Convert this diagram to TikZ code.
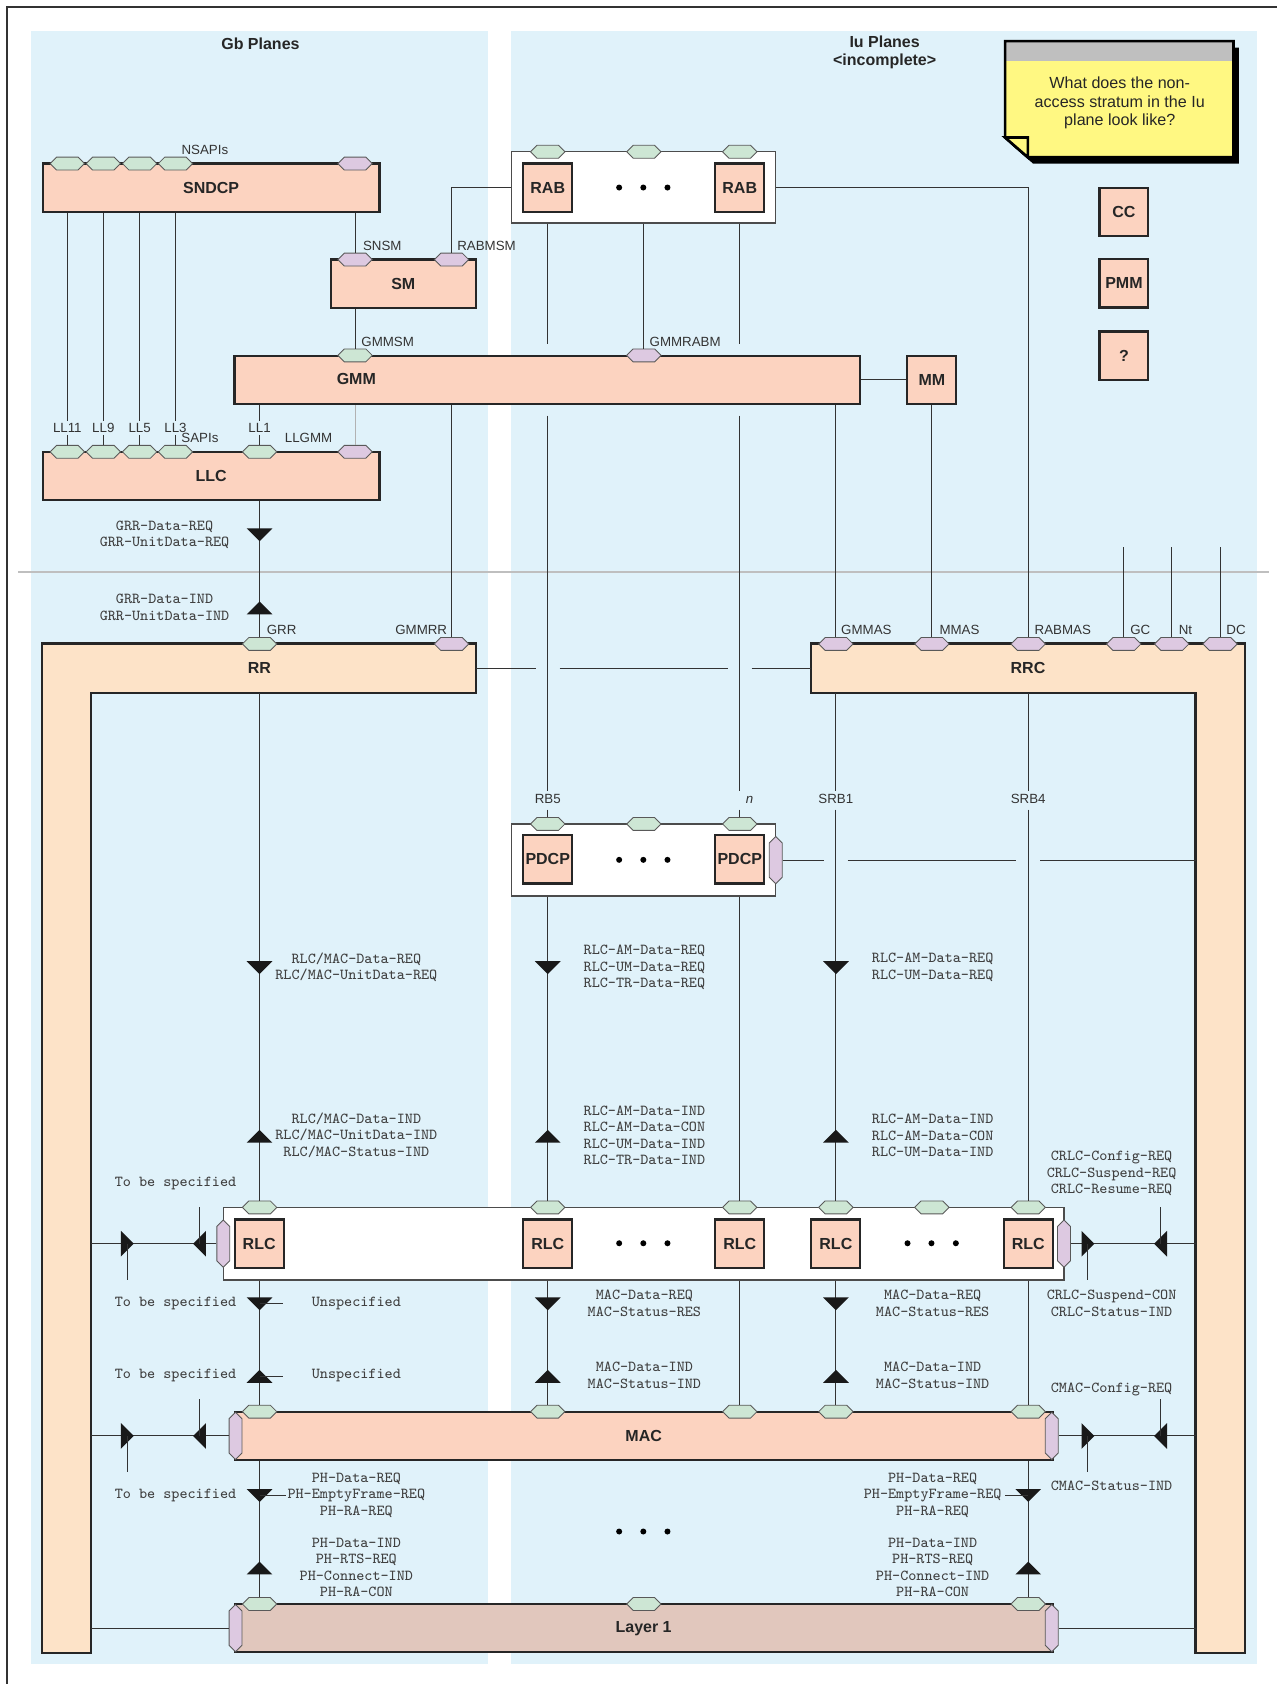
\documentclass[tikz,border=0pt]{standalone}
\usepackage{fontspec}
\setsansfont{Liberation Sans}
\usetikzlibrary{shapes.symbols, calc}

\definecolor{paneblue}{RGB}{224,242,250}
\definecolor{entityfill}{RGB}{252,211,192}
\definecolor{rrfill}{RGB}{253,227,200}
\definecolor{physfill}{RGB}{225,199,189}
\definecolor{sapgreen}{RGB}{205,230,212}
\definecolor{sappurple}{RGB}{221,201,225}
\definecolor{noteyellow}{RGB}{255,248,130}
\definecolor{linegray}{RGB}{51,51,51}

% filled primitive triangles
\newcommand{\trdown}[1]{\fill[black!90] (#1) ++(-12,-6) -- ++(24,0) -- ++(-12,12) -- cycle;}
\newcommand{\trup}[1]{\fill[black!90] (#1) ++(-12,6) -- ++(24,0) -- ++(-12,-12) -- cycle;}
\newcommand{\trright}[1]{\fill[black!90] (#1) ++(-6,-12) -- ++(0,24) -- ++(12,-12) -- cycle;}
\newcommand{\trleft}[1]{\fill[black!90] (#1) ++(6,-12) -- ++(0,24) -- ++(-12,-12) -- cycle;}

\begin{document}
\begin{tikzpicture}[
    x=0.5pt, y=-0.5pt,
    every node/.style={inner sep=0pt},
    entity/.style={
        rectangle,
        draw=black!85,
        line width=1pt,
        fill=entityfill,
        minimum width=22.8pt,
        minimum height=22.5pt,
        text=black!85,
        font=\sffamily\bfseries\fontsize{7.45}{9}\selectfont
    },
    boxlabel/.style={
        text=black!85,
        font=\sffamily\bfseries\fontsize{7.45}{9}\selectfont
    },
    sapgroup/.style={
        rectangle,
        draw=black!70,
        line width=0.6pt,
        fill=white
    },
    rrpart/.style={
        rectangle,
        draw=none
    },
    lshape/.style={
        draw=black!85,
        line width=1pt,
        fill=rrfill
    },
    gsap/.style={
        signal,
        signal to=east and west,
        signal pointer angle=90,
        draw=black!65,
        line width=0.4pt,
        minimum width=16pt,
        minimum height=6pt,
        fill=sapgreen
    },
    psap/.style={gsap, fill=sappurple},
    vsap/.style={
        signal,
        signal to=north and south,
        signal pointer angle=90,
        draw=black!65,
        line width=0.4pt,
        minimum width=6pt,
        minimum height=16pt,
        fill=sappurple
    },
    saplabel/.style={
        inner sep=0.8pt,
        text height=4.5pt,
        text depth=0pt,
        text=black!80,
        font=\sffamily\fontsize{6.2}{7}\selectfont
    },
    prim/.style={
        align=center,
        text=black!75,
        font=\ttfamily\fontsize{7.1}{7.5}\selectfont
    },
    planetitle/.style={
        align=center,
        text=black!85,
        font=\sffamily\bfseries\fontsize{7.45}{8.6}\selectfont
    },
    notetext/.style={
        align=center,
        text=black!85,
        font=\sffamily\fontsize{7.5}{8.55}\selectfont
    },
    link/.style={draw=linegray, line width=0.5pt},
    sidetick/.style={draw=linegray, line width=0.5pt}
]
\useasboundingbox (0,0) rectangle (1189,1568);

% ============================================
% Planes, frame and divider
% ============================================
\fill[paneblue] (28.5,28.9) rectangle (454,1549.6);
\fill[paneblue] (476,28.9) rectangle (1170,1549.6);
\draw[linegray, line width=1pt] (1189,6.7) -- (6.8,6.7) -- (6.8,1568);
\draw[black!25, line width=1pt] (17,532.3) -- (1181.5,532.3);

\node[planetitle] (gbtitle) at (242.5,40.6) {Gb Planes};
\node[planetitle] (iutitle) at (823.7,48.6) {Iu Planes\\<incomplete>};

% sticky note
\fill[black] (940.8,44.3) -- (1153.5,44.3) -- (1153.5,152.4) -- (962,152.4) -- (940.8,134) -- cycle;
\fill[noteyellow] (935.8,38.3) -- (1148.5,38.3) -- (1148.5,146.4) -- (957,146.4) -- (935.8,128) -- cycle;
\fill[black!25] (935.8,38.3) rectangle (1148.5,56.5);
\draw[black, line width=1.2pt] (935.8,38.3) -- (1148.5,38.3) -- (1148.5,146.4) -- (957,146.4) -- (935.8,128) -- cycle;
\filldraw[fill=noteyellow, draw=black, line width=1.2pt] (935.8,128) -- (957,128) -- (957,146.4) -- cycle;
\node[notetext] (note) at (1042.6,95.8) {What does the non-\\access stratum in the Iu\\plane look like?};

% ============================================
% Upper layers
% ============================================
\node[entity, minimum width=156.7pt] (sndcp) at (196.6,174.7) {SNDCP};
\node[entity, minimum width=67.7pt] (sm) at (375.5,264.1) {SM};
\node[entity, minimum width=291.3pt] (gmm) at (509.7,353.6) {};
\node[boxlabel] (gmmtext) at (331.8,353.2) {GMM};
\node[entity] (mm) at (867.7,353.6) {MM};
\node[entity, minimum width=156.7pt] (llc) at (196.6,443.1) {LLC};

\node[entity] (cc) at (1046.5,197.3) {CC};
\node[entity] (pmm) at (1046.5,263.8) {PMM};
\node[entity] (unknown) at (1046.5,331.2) {?};

\node[sapgroup, minimum width=123pt, minimum height=33.2pt] (rabgrp) at (599.2,174.5) {};
\node[entity] (rab1) at (510,174.7) {RAB};
\node[entity] (rab2) at (688.8,174.7) {RAB};
\fill (576.5,174.6) circle (1.4pt) (599,174.6) circle (1.4pt) (621.5,174.6) circle (1.4pt);

% ============================================
% RR and RRC
% ============================================
\node[rrpart, minimum width=201.6pt, minimum height=22.5pt] (rr) at (241.5,622.1) {};
\node[rrpart, minimum width=22.25pt, minimum height=469.45pt] (rrleg) at (62.15,1069.05) {};
\draw[lshape] (rr.north west) -- (rr.north east) -- (rr.south east) -- (rrleg.east |- rr.south)
    -- (rrleg.south east) -- (rrleg.south west) -- cycle;
\node[boxlabel] (rrtext) at (rr) {RR};

\node[rrpart, minimum width=201.6pt, minimum height=22.5pt] (rrc) at (957.2,622.1) {};
\node[rrpart, minimum width=22.6pt, minimum height=469.45pt] (rrcleg) at (1136.2,1069.05) {};
\draw[lshape] (rrc.north west) -- (rrcleg.north east) -- (rrcleg.south east) -- (rrcleg.south west)
    -- (rrcleg.west |- rrc.south) -- (rrc.south west) -- cycle;
\node[boxlabel] (rrctext) at (rrc) {RRC};

% ============================================
% PDCP, RLC, MAC, Layer 1
% ============================================
\node[sapgroup, minimum width=123pt, minimum height=33.5pt] (pdcpgrp) at (599.2,800.8) {};
\node[entity] (pdcp1) at (510,800.2) {PDCP};
\node[entity] (pdcp2) at (688.8,800.2) {PDCP};
\fill (576.5,800.6) circle (1.4pt) (599,800.6) circle (1.4pt) (621.5,800.6) circle (1.4pt);

\node[sapgroup, minimum width=391.4pt, minimum height=33.8pt] (rlcgrp) at (599.3,1158) {};
\foreach \x/\k in {241.3/1, 510/2, 688.8/3, 778.3/4, 957.4/5}
    \node[entity] (rlc\k) at (\x,1158) {RLC};
\foreach \x in {576.5, 599, 621.5, 845, 867.3, 890}
    \fill (\x,1157.6) circle (1.4pt);

\node[entity, minimum width=380.75pt] (mac) at (599.3,1336.9) {MAC};
\node[entity, minimum width=380.75pt, fill=physfill] (layer1) at (599.3,1516) {Layer 1};
\fill (576.5,1426) circle (1.4pt) (599,1426) circle (1.4pt) (621.5,1426) circle (1.4pt);

% ============================================
% Service access points
% ============================================
\foreach \x/\k in {62.7/1, 96.2/2, 130/3, 163.4/4}{
    \node[gsap] (nsapi\k) at (\x,152.3) {};
    \node[gsap] (sapi\k) at (\x,420.7) {};
}
\node[psap] (sndcpsm) at (330.6,152.3) {};
\node[psap] (smsn) at (330.6,241.7) {};
\node[psap] (smrab) at (420.4,241.7) {};
\node[gsap] (gmmsm) at (330.6,330.9) {};
\node[psap] (gmmrabm) at (599.5,330.9) {};
\node[gsap] (sapi5) at (241.7,420.7) {};
\node[psap] (llgmm) at (330.6,420.7) {};
\foreach \x/\k in {510/1, 599.5/2, 688.8/3}{
    \node[gsap] (rabsap\k) at (\x,141.3) {};
    \node[gsap] (pdsap\k) at (\x,767.2) {};
}
\node[vsap] (pdside) at (722.3,800.8) {};

\node[gsap] (grr) at (241.7,599.6) {};
\node[psap] (gmmrr) at (420.4,599.6) {};
\foreach \x/\n in {778.3/gmmas, 867.7/mmas, 957.4/rabmas, 1046.3/gc, 1091/nt, 1136/dc}
    \node[psap] (\n) at (\x,599.6) {};

\foreach \x/\k in {241.7/1, 510/2, 688.8/3, 778.3/4, 867.7/5, 957.4/6}
    \node[gsap] (rlcsap\k) at (\x,1124.2) {};
\node[vsap] (rlcwest) at (207.9,1158) {};
\node[vsap] (rlceast) at (990.7,1158) {};

\foreach \x/\k in {241.7/1, 510/2, 688.8/3, 778.3/4, 957.4/5}
    \node[gsap] (macsap\k) at (\x,1314.4) {};
\node[vsap] (macwest) at (219.3,1337) {};
\node[vsap] (maceast) at (979.3,1337) {};

\foreach \x/\k in {241.7/1, 599.5/2, 957.4/3}
    \node[gsap] (physap\k) at (\x,1493.5) {};
\node[vsap] (phywest) at (219.3,1516) {};
\node[vsap] (phyeast) at (979.3,1516) {};

% SAP labels
\node[saplabel] (nsapis) at (190.8,139) {NSAPIs};
\node[saplabel] (snsm) at (356,228.5) {SNSM};
\node[saplabel] (rabmsm) at (453,228.5) {RABMSM};
\node[saplabel] (gmmsmtext) at (361,318.5) {GMMSM};
\node[saplabel] (gmmrabmtext) at (638,318.5) {GMMRABM};
\node[saplabel] (ll1) at (62.7,398.4) {LL11};
\node[saplabel] (ll2) at (96.2,398.4) {LL9};
\node[saplabel] (ll3) at (130,398.4) {LL5};
\node[saplabel] (ll4) at (163.4,398.4) {LL3};
\node[saplabel] (ll5) at (241.7,398.4) {LL1};
\node[saplabel] (sapis) at (186.2,407.7) {SAPIs};
\node[saplabel] (llgmmtext) at (287.3,407.7) {LLGMM};
\node[saplabel] (grrtext) at (262.2,586.6) {GRR};
\node[saplabel] (gmmrrtext) at (392.2,586.6) {GMMRR};
\node[saplabel] (gmmastext) at (806.7,586.6) {GMMAS};
\node[saplabel] (mmastext) at (893.4,586.6) {MMAS};
\node[saplabel] (rabmastext) at (989.6,586.6) {RABMAS};
\node[saplabel] (gctext) at (1061.8,586.6) {GC};
\node[saplabel] (nttext) at (1103.8,586.6) {Nt};
\node[saplabel] (dctext) at (1150.9,586.6) {DC};
\node[saplabel] (rb5) at (510,743.3) {RB5};
\node[saplabel] (nlabel) at (698,743.3) {\itshape n};
\node[saplabel] (srb1) at (778.3,743.3) {SRB1};
\node[saplabel] (srb4) at (957.4,743.3) {SRB4};

% ============================================
% Connectors
% ============================================
\foreach \k in {1,...,4}{
    \draw[link] (sndcp.south -| sapi\k) -- (sapi\k |- ll\k.north);
    \draw[link] (sapi\k |- ll\k.south) -- (sapi\k.north);
}
\draw[link] (sndcp.south -| smsn) -- (smsn.north);
\draw[link] (rabgrp.west) -| (smrab.north);
\draw[link] (sm.south -| gmmsm) -- (gmmsm.north);
\draw[link] (rabgrp.south -| gmmrabm) -- (gmmrabm.north);
\draw[link] (gmm.east) -- (mm.west);
\draw[link] (gmm.south -| sapi5) -- (sapi5 |- ll5.north);
\draw[link] (sapi5 |- ll5.south) -- (sapi5.north);
\draw[black!30, line width=0.5pt] (gmm.south -| llgmm) -- (llgmm.north);
\draw[link] (gmm.south -| gmmrr) -- (gmmrr.north);
\draw[link] (gmm.south -| gmmas) -- (gmmas.north);
\draw[link] (mm.south) -- (mmas.north);
\draw[link] (rabgrp.east) -| (rabmas.north);
\foreach \n in {gc, nt, dc}
    \draw[link] (\n |- 0,509.4) -- (\n.north);

% radio bearers through GMM and RR/RRC
\foreach \k/\lbl in {1/rb5, 3/nlabel}{
    \draw[link] (rabgrp.south -| rabsap\k) -- ($(gmm.north -| rabsap\k)+(0,-10)$);
    \draw[link] ($(gmm.south -| rabsap\k)+(0,10)$) -- (rabsap\k |- \lbl.north);
    \draw[link] ($(rabsap\k |- \lbl.south)+(0,4)$) -- (pdsap\k.north);
}
\draw[link] (rr.east) -- ($(rr.east -| rabsap1)+(-11,0)$);
\draw[link] ($(rr.east -| rabsap1)+(11,0)$) -- ($(rr.east -| rabsap3)+(-11,0)$);
\draw[link] ($(rr.east -| rabsap3)+(11,0)$) -- (rrc.west);

% LLC - RR
\draw[link] (llc.south -| grr) -- (grr.north);
\trdown{241.7,498}
\trup{241.7,566}

% RR / PDCP / RRC - RLC
\draw[link] (rr.south -| rlcsap1) -- (rlcsap1.north);
\draw[link] (pdcpgrp.south -| rlcsap2) -- (rlcsap2.north);
\draw[link] (pdcpgrp.south -| rlcsap3) -- (rlcsap3.north);
\draw[link] (rrc.south -| rlcsap4) -- (rlcsap4 |- srb1.north);
\draw[link] ($(rlcsap4 |- srb1.south)+(0,4)$) -- (rlcsap4.north);
\draw[link] (rrc.south -| rlcsap6) -- (rlcsap6 |- srb4.north);
\draw[link] ($(rlcsap6 |- srb4.south)+(0,4)$) -- (rlcsap6.north);
\foreach \x in {241.7, 510, 778.3}{
    \trdown{\x,901}
    \trup{\x,1058}
}

% PDCP control
\draw[link] (pdside.east) -- ($(pdside.east -| rlcsap4)+(-11,0)$);
\draw[link] ($(pdside.east -| rlcsap4)+(11,0)$) -- ($(pdside.east -| rlcsap6)+(-11,0)$);
\draw[link] ($(pdside.east -| rlcsap6)+(11,0)$) -- (rrcleg.west |- pdside.east);

% RLC control
\draw[link] (rlcwest.west) -- (rrleg.east |- rlcwest.west);
\draw[link] (rlceast.east) -- (rrcleg.west |- rlceast.east);
% MAC control
\draw[link] (macwest.west) -- (rrleg.east |- macwest.west);
\draw[link] (maceast.east) -- (rrcleg.west |- maceast.east);
\foreach \y in {1158, 1337}{
    \trright{118.5,\y}
    \trleft{185.8,\y}
    \trright{1013,\y}
    \trleft{1080.6,\y}
    \draw[sidetick] (118.5,\y) -- ++(0,34);
    \draw[sidetick] (185.8,\y) -- ++(0,-34);
    \draw[sidetick] (1013,\y) -- ++(0,34);
    \draw[sidetick] (1080.6,\y) -- ++(0,-34);
}

% RLC - MAC
\foreach \k in {1,...,5}
    \draw[link] (rlcgrp.south -| macsap\k) -- (macsap\k.north);
\foreach \x in {241.7, 510, 778.3}{
    \trdown{\x,1214}
    \trup{\x,1281.5}
}
\draw[sidetick] (241.7,1214) -- ++(22,0);
\draw[sidetick] (241.7,1281.5) -- ++(22,0);

% MAC - Layer 1
\draw[link] (mac.south -| physap1) -- (physap1.north);
\draw[link] (mac.south -| physap3) -- (physap3.north);
\trdown{241.7,1392.5}
\trup{241.7,1460}
\trdown{957.4,1392.5}
\trup{957.4,1460}
\draw[sidetick] (241.7,1392.5) -- ++(25,0);
\draw[sidetick] (957.4,1392.5) -- ++(-22,0);
\draw[link] (phywest.west) -- (rrleg.east |- phywest.west);
\draw[link] (phyeast.east) -- (rrcleg.west |- phyeast.east);

% ============================================
% Primitives
% ============================================
\node[prim] (grrreq) at (153.2,498.3) {GRR-Data-REQ\\GRR-UnitData-REQ};
\node[prim] (grrind) at (153.2,565.5) {GRR-Data-IND\\GRR-UnitData-IND};
\node[prim] (rrreq) at (331.8,900.6) {RLC/MAC-Data-REQ\\RLC/MAC-UnitData-REQ};
\node[prim] (rrind) at (331.8,1057.1) {RLC/MAC-Data-IND\\RLC/MAC-UnitData-IND\\RLC/MAC-Status-IND};
\node[prim] (pdreq) at (600,900.7) {RLC-AM-Data-REQ\\RLC-UM-Data-REQ\\RLC-TR-Data-REQ};
\node[prim] (pdind) at (600,1057.1) {RLC-AM-Data-IND\\RLC-AM-Data-CON\\RLC-UM-Data-IND\\RLC-TR-Data-IND};
\node[prim] (srbreq) at (868.4,900.6) {RLC-AM-Data-REQ\\RLC-UM-Data-REQ};
\node[prim] (srbind) at (868.4,1057.1) {RLC-AM-Data-IND\\RLC-AM-Data-CON\\RLC-UM-Data-IND};
\node[prim] (tbs1) at (163.4,1101.8) {To be specified};
\node[prim] (crlcreq) at (1035,1092.5) {CRLC-Config-REQ\\CRLC-Suspend-REQ\\CRLC-Resume-REQ};
\node[prim] (crlcind) at (1035,1213.5) {CRLC-Suspend-CON\\CRLC-Status-IND};
\node[prim] (tbs2) at (163.4,1213.5) {To be specified};
\node[prim] (unspec1) at (331.8,1213.5) {Unspecified};
\node[prim] (macreq1) at (600,1213.5) {MAC-Data-REQ\\MAC-Status-RES};
\node[prim] (macreq2) at (868.4,1213.5) {MAC-Data-REQ\\MAC-Status-RES};
\node[prim] (tbs3) at (163.4,1280.3) {To be specified};
\node[prim] (unspec2) at (331.8,1280.3) {Unspecified};
\node[prim] (macind1) at (600,1280.5) {MAC-Data-IND\\MAC-Status-IND};
\node[prim] (macind2) at (868.4,1280.5) {MAC-Data-IND\\MAC-Status-IND};
\node[prim] (cmacreq) at (1035,1293.6) {CMAC-Config-REQ};
\node[prim] (cmacind) at (1035,1383) {CMAC-Status-IND};
\node[prim] (tbs4) at (163.4,1392.3) {To be specified};
\node[prim] (phreq1) at (331.8,1392.3) {PH-Data-REQ\\PH-EmptyFrame-REQ\\PH-RA-REQ};
\node[prim] (phreq2) at (868.4,1392.3) {PH-Data-REQ\\PH-EmptyFrame-REQ\\PH-RA-REQ};
\node[prim] (phind1) at (331.8,1459.4) {PH-Data-IND\\PH-RTS-REQ\\PH-Connect-IND\\PH-RA-CON};
\node[prim] (phind2) at (868.4,1459.4) {PH-Data-IND\\PH-RTS-REQ\\PH-Connect-IND\\PH-RA-CON};

\end{tikzpicture}
\end{document}
